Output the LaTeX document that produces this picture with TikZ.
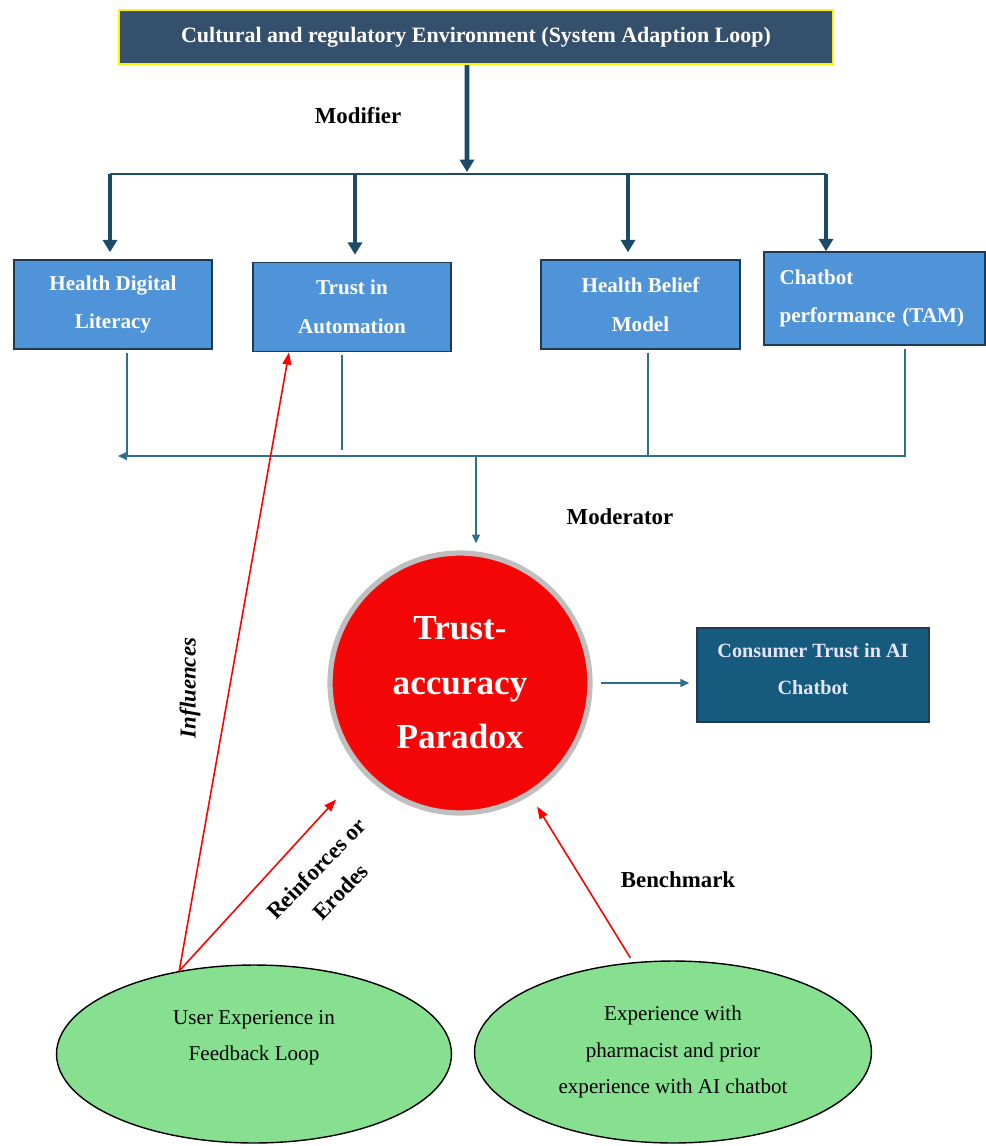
\documentclass[tikz,border=0pt]{standalone}
\usepackage{fontspec}
\setmainfont{Liberation Serif}
\usetikzlibrary{arrows.meta,calc,shapes.geometric}
\definecolor{envblue}{HTML}{35506D}
\definecolor{factorblue}{HTML}{4F94D8}
\definecolor{factorrim}{HTML}{1F3A52}
\definecolor{consblue}{HTML}{165A7E}
\definecolor{modteal}{HTML}{1B4B66}
\definecolor{linkteal}{HTML}{2F6F8F}
\definecolor{expgreen}{HTML}{86E08F}
\definecolor{paradoxred}{HTML}{F40606}

\begin{document}
\begin{tikzpicture}[x=0.02cm,y=-0.02cm,>=Stealth,
	envbox/.style={draw=yellow, line width=1.2pt, fill=envblue, text=white, font=\bfseries\fontsize{12.5}{15}\selectfont, minimum width=14.28cm, minimum height=1.08cm},
	factor/.style={draw=factorrim, line width=0.9pt, fill=factorblue, text=white, font=\bfseries\fontsize{12}{22}\selectfont, align=center, minimum height=1.78cm, inner sep=0pt},
	outcome/.style={draw=factorrim, line width=0.9pt, fill=consblue, text=white!90!blue, font=\bfseries\fontsize{11.5}{21}\selectfont, align=center, minimum width=4.64cm, minimum height=1.88cm},
	paradox/.style={circle, draw=gray!50, line width=3pt, fill=paradoxred, text=white, font=\bfseries\fontsize{20}{31}\selectfont, align=center, minimum size=5.2cm, inner sep=0pt},
	expell/.style={ellipse, draw=black, line width=0.8pt, fill=expgreen, align=center, font=\fontsize{12}{21}\selectfont, inner sep=0pt},
	modarrow/.style={draw=modteal, line width=2.6pt, -{Triangle[length=7pt,width=8pt]}},
	busline/.style={draw=modteal, line width=1.6pt},
	modline/.style={draw=linkteal, line width=0.9pt},
	modtip/.style={modline, -{Triangle[length=5pt,width=4.5pt]}},
	redarrow/.style={draw=red, line width=0.9pt, -{Triangle[length=7pt,width=5pt]}},
	lbl/.style={font=\bfseries\fontsize{13}{15}\selectfont}]
	\useasboundingbox (0,0) rectangle (985,1146);
	\node[envbox] (env) at (476,37) {Cultural and regulatory Environment (System Adaption Loop)};
	\node[factor, minimum width=3.96cm] (hdl) at (113,304.5) {Health Digital\\Literacy};
	\node[factor, minimum width=3.96cm] (tia) at (352,307) {Trust in\\Automation};
	\node[factor, minimum width=3.98cm] (hbm) at (640.5,304.5) {Health Belief\\Model};
	\node[factor, minimum width=4.42cm, minimum height=1.86cm, align=left, text width=3.8cm] (cp) at (874.5,298.5) {Chatbot\\performance (TAM)};
	\node[paradox] (tap) at (460,683) {Trust-\\accuracy\\Paradox};
	\node[outcome, text depth=0.25cm] (cons) at (813,675) {Consumer Trust in AI\\Chatbot};
	\node[expell, minimum width=7.9cm, minimum height=3.56cm] (ux) at (254,1054) {User Experience in\\Feedback Loop\\\mbox{}};
	\node[expell, minimum width=7.94cm, minimum height=3.64cm] (ex) at (673,1052) {Experience with\\pharmacist and prior\\experience with AI chatbot};
	\node[lbl] (modifier) at (358,116) {Modifier};
	\node[lbl] (moderator) at (620,517) {Moderator};
	\node[lbl] (benchmark) at (678,880) {Benchmark};
	\node[lbl, font=\bfseries\itshape\fontsize{13}{15}\selectfont, rotate=90] (influences) at (190,688) {Influences};
	\node[lbl, rotate=46, align=center, font=\bfseries\fontsize{13}{19}\selectfont] (reinforces) at (328,880) {Reinforces or\\Erodes};
	\coordinate (modtop) at (467,172);
	\coordinate (busl) at (110,174);
	\coordinate (busr) at (826,174);
	\coordinate (m1) at (110,174);
	\coordinate (m2) at (355,174);
	\coordinate (m3) at (628,174);
	\coordinate (m4) at (826,174);
	\draw[modarrow] ([xshift=-0.18cm]env.south) -- (modtop);
	\draw[busline] (busl) -- (busr);
	\draw[modarrow, shorten >=0.14cm] (m1) -- (m1 |- hdl.north);
	\draw[modarrow, shorten >=0.14cm] (m2) -- (m2 |- tia.north);
	\draw[modarrow, shorten >=0.14cm] (m3) -- (m3 |- hbm.north);
	\draw[modarrow] (m4) -- (m4 |- cp.north);
	\coordinate (mbl) at (118,456);
	\coordinate (mdown) at (476,456);
	\coordinate (h1) at ([xshift=0.28cm]hdl.south);
	\coordinate (h2) at ([xshift=-0.2cm]tia.south);
	\coordinate (h3) at ([xshift=0.15cm]hbm.south);
	\coordinate (h4) at ([xshift=0.61cm]cp.south);
	\draw[modline, shorten <=0.06cm] (h1) -- (h1 |- mbl);
	\draw[modline, shorten <=0.06cm, shorten >=0.12cm] (h2) -- (h2 |- mbl);
	\draw[modline, shorten <=0.06cm] (h3) -- (h3 |- mbl);
	\draw[modtip, shorten <=0.06cm] (h4) |- (mbl);
	\draw[modtip, shorten >=0.14cm] (mdown) -- (mdown |- tap.north);
	\draw[modtip, shorten <=0.16cm, shorten >=0.14cm] (tap.east) -- (cons.west |- tap.east);
	\draw[redarrow] (ux.132) -- ([xshift=-1.26cm]tia.south);
	\draw[redarrow, shorten >=0.75cm] (ux.132) -- (tap.222);
	\draw[redarrow, shorten <=0.1cm, shorten >=0.26cm] (ex.114) -- (tap.302);
\end{tikzpicture}
\end{document}
